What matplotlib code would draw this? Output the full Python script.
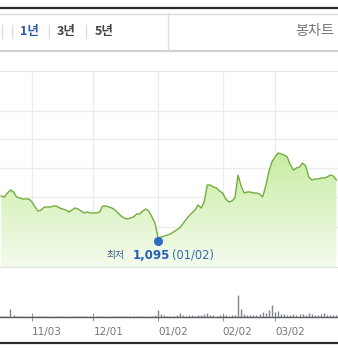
import matplotlib
matplotlib.use('Agg')
import matplotlib.pyplot as plt
import numpy as np
from matplotlib.patches import Polygon
from matplotlib.lines import Line2D
from matplotlib.colors import LinearSegmentedColormap

plt.rcParams['font.family'] = ['Noto Sans CJK KR', 'DejaVu Sans']

# daily close (won), one per trading day, left to right
price = [1305, 1300, 1320, 1335, 1325, 1300, 1295, 1290, 1290, 1290,
         1275, 1250, 1230, 1235, 1250, 1250, 1250, 1255, 1255, 1245,
         1240, 1235, 1225, 1235, 1245, 1240, 1230, 1220, 1225, 1220,
         1220, 1220, 1225, 1255, 1255, 1250, 1245, 1235, 1220, 1205,
         1195, 1190, 1195, 1200, 1215, 1215, 1230, 1240, 1230, 1200,
         1170, 1095, 1100, 1105, 1110, 1115, 1125, 1135, 1145, 1165,
         1185, 1205, 1220, 1235, 1260, 1245, 1275, 1360, 1360, 1350,
         1345, 1330, 1320, 1290, 1275, 1280, 1295, 1410, 1355, 1320,
         1325, 1325, 1320, 1320, 1315, 1300, 1355, 1425, 1475, 1500,
         1520, 1515, 1510, 1500, 1460, 1435, 1445, 1450, 1470, 1455,
         1400, 1385, 1390, 1390, 1395, 1395, 1400, 1410, 1405, 1385]

# daily volume (thousand shares)
volume = [120, 100, 150, 850, 200, 100, 80, 100, 120, 90,
          100, 150, 80, 100, 120, 90, 100, 80, 100, 120,
          100, 90, 110, 100, 80, 100, 120, 90, 100, 110,
          100, 120, 100, 150, 100, 90, 100, 110, 120, 100,
          90, 100, 120, 100, 150, 100, 110, 150, 120, 150,
          250, 700, 300, 200, 150, 120, 150, 200, 400, 200,
          150, 180, 200, 150, 250, 200, 300, 400, 250, 200,
          150, 200, 250, 200, 150, 200, 250, 2200, 800, 300,
          200, 200, 250, 200, 300, 500, 400, 700, 1200, 500,
          600, 350, 300, 250, 250, 300, 250, 300, 300, 250,
          450, 300, 250, 250, 300, 400, 250, 200, 250, 200]

tick_idx = [10, 30, 51, 72, 89]
tick_lab = ['11/03', '12/01', '01/02', '02/02', '03/02']
grid_prices = [1150, 1300, 1445, 1590, 1730]

low_idx = 51
low_text = '1,095'
low_date = '(01/02)'

tabs = ['1년', '3년', '5년']

W, H = 338, 350
fig = plt.figure(figsize=(W / 100, H / 100), dpi=100)


def fx(x):
    return x / W


def fy(y):
    return 1 - y / H


days = np.arange(len(price))

# ---- price panel
ax = fig.add_axes([0, fy(267), 1, (267 - 71) / H])
for s in ['left', 'right']:
    ax.spines[s].set_visible(False)
ax.spines['top'].set_color('#e4e4e4')
ax.spines['bottom'].set_color('#dde6d6')
ax.set_xticks([])
ax.set_yticks([])
for t in tick_idx:
    ax.axvline(t, color='#ececec', lw=1, zorder=0)
for g in grid_prices:
    ax.axhline(g, color='#ececec', lw=1, zorder=0)

verts = [(days[0], 950)] + list(zip(days, price)) + [(days[-1], 950)]
clip = Polygon(verts, closed=True, facecolor='none', edgecolor='none',
               transform=ax.transData)
ax.add_patch(clip)
grad = np.linspace(0, 1, 256).reshape(-1, 1)
cmap = LinearSegmentedColormap.from_list('g', ['#f4fbee', '#c9eda3'])
im = ax.imshow(grad, extent=[days[0], days[-1], 950, max(price)],
               origin='lower', aspect='auto', cmap=cmap, zorder=1)
im.set_clip_path(clip)
ax.set_xlim(-0.4, 109.5)
ax.set_ylim(950, 1930)
ax.plot(days, price, color='#74ad3f', lw=1.0, zorder=3)

# lowest point marker and label
lp = price[low_idx]
ax.plot([low_idx], [lp - 15], 'o', color='#2c6cc4', ms=5.5, zorder=4,
        mec='#2c6cc4')
ax.annotate('최저', xy=(low_idx, lp), xytext=(-52, -17),
            textcoords='offset pixels', fontsize=7, color='#3a5a8a',
            ha='left', va='center')
ax.annotate(low_text, xy=(low_idx, lp), xytext=(-25, -17),
            textcoords='offset pixels', fontsize=8.5, color='#2460b5',
            fontweight='bold', ha='left', va='center',
            family=['DejaVu Sans'])
ax.annotate(low_date, xy=(low_idx, lp), xytext=(14, -17),
            textcoords='offset pixels', fontsize=8.3, color='#3a6ab0',
            ha='left', va='center', family=['DejaVu Sans'])

# ---- volume panel
ax2 = fig.add_axes([0, fy(317), 1, 50 / H])
ax2.set_xlim(-0.4, 109.5)
ax2.set_ylim(0, 5000)
ax2.vlines(days, 0, volume, color='#7d8496', lw=1)
for s in ['left', 'right', 'top']:
    ax2.spines[s].set_visible(False)
ax2.spines['bottom'].set_color('#5a5a5a')
ax2.spines['bottom'].set_linewidth(1)
ax2.set_yticks([])
ax2.set_xticks(tick_idx)
ax2.set_xticklabels(tick_lab, family=['DejaVu Sans'])
ax2.tick_params(axis='x', direction='inout', length=6, color='#999999',
                labelsize=7.5, labelcolor='#777777', pad=4)
for lab in ax2.get_xticklabels():
    lab.set_horizontalalignment('left')
ax2.patch.set_alpha(0)

# ---- frame and tab bar
fig.add_artist(Line2D([0, 1], [fy(8), fy(8)], color='#2a2a2a', lw=1.6))
fig.add_artist(Line2D([0, 1], [fy(343), fy(343)], color='#2a2a2a', lw=1.6))
fig.add_artist(Line2D([0, 1], [fy(14), fy(14)], color='#d8d8d8', lw=1))
fig.add_artist(Line2D([0, 1], [fy(50.5), fy(50.5)], color='#d0d0d0', lw=1.6))
fig.add_artist(Line2D([fx(168), fx(168)], [fy(14), fy(50)], color='#dddddd', lw=1))
for sx in [2, 12, 49, 86]:
    fig.add_artist(Line2D([fx(sx), fx(sx)], [fy(25), fy(38)], color='#dddddd', lw=1))

tab_x = [20, 57, 95]
tab_col = ['#2a5aa8', '#444444', '#444444']
for label, x, c in zip(tabs, tab_x, tab_col):
    fig.text(fx(x), fy(31), label, ha='left', va='center', fontsize=9,
             fontweight='bold', color=c)
fig.text(fx(295), fy(31), '봉차트', ha='left', va='center', fontsize=10.2,
         color='#777777')

fig.savefig('out.png', dpi=100)
